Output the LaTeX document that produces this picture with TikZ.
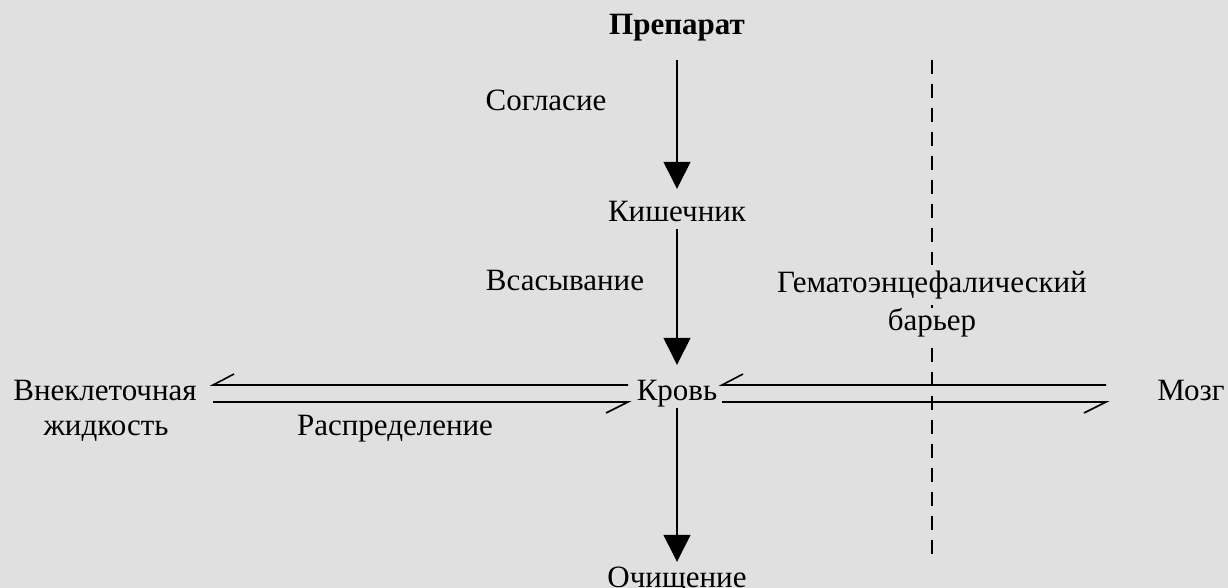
\documentclass[tikz,border=0pt]{standalone}
\usepackage{fontspec}
\setmainfont{Liberation Serif}
\usetikzlibrary{arrows.meta}
\definecolor{bg}{RGB}{224,224,224}
\tikzset{
  lbl/.style={inner sep=0pt, anchor=base, font=\fontsize{31}{35}\selectfont, text height=21pt, text depth=7pt},
  arr/.style={line width=1.3pt, -{Triangle[length=27pt,width=27pt]}},
  eqline/.style={line width=1.6pt},
  barrier/.style={line width=2pt, dash pattern=on 14pt off 10pt}
}
\begin{document}
\begin{tikzpicture}[x=1pt,y=-1pt]
\fill[bg] (0,0) rectangle (1228,588);
\useasboundingbox (0,0) rectangle (1228,588);
% barrier
\coordinate (bt) at (932,60);
\coordinate (bb) at (932,562);
\draw[barrier] (bt) -- (bb);
% nodes
\node[lbl, font=\fontsize{31}{35}\selectfont\bfseries] (prep) at (677,34.5) {Препарат};
\node[lbl] (kish) at (677,222) {Кишечник};
\node[lbl] (krov) at (677,400.5) {Кровь};
\node[lbl] (och) at (677,587) {Очищение};
\node[lbl] (sogl) at (546,111) {Согласие};
\node[lbl] (vsas) at (565,290) {Всасывание};
\node[lbl, fill=bg, inner ysep=6pt] (gem) at (932,292) {Гематоэнцефалический};
\node[lbl, fill=bg, inner ysep=1pt] (bar) at (932,330) {барьер};
\node[lbl] (vnek1) at (105,400.5) {Внеклеточная};
\node[lbl] (vnek2) at (106,435) {жидкость};
\node[lbl] (raspr) at (395,435) {Распределение};
\node[lbl] (mozg) at (1191,400.5) {Мозг};
% vertical arrows
\draw[arr, shorten <=18.5pt, shorten >=12pt] (prep) -- (kish);
\draw[arr, shorten >=14.5pt] (kish) -- (krov);
\draw[arr, shorten >=4pt] (krov) -- (och);
% equilibrium harpoons
\coordinate (a1t) at (213,385);
\coordinate (a2t) at (628,385);
\coordinate (a1b) at (213,402);
\coordinate (a2b) at (628,402);
\coordinate (b1t) at (722,385);
\coordinate (b2t) at (1106,385);
\coordinate (b1b) at (722,402);
\coordinate (b2b) at (1106,402);
\draw[eqline] (a1t) ++(21,-11) -- (a1t) -- (a2t);
\draw[eqline] (a1b) -- (a2b) -- ++(-22,11);
\draw[eqline] (b1t) ++(21,-11) -- (b1t) -- (b2t);
\draw[eqline] (b1b) -- (b2b) -- ++(-22,11);
\end{tikzpicture}
\end{document}
